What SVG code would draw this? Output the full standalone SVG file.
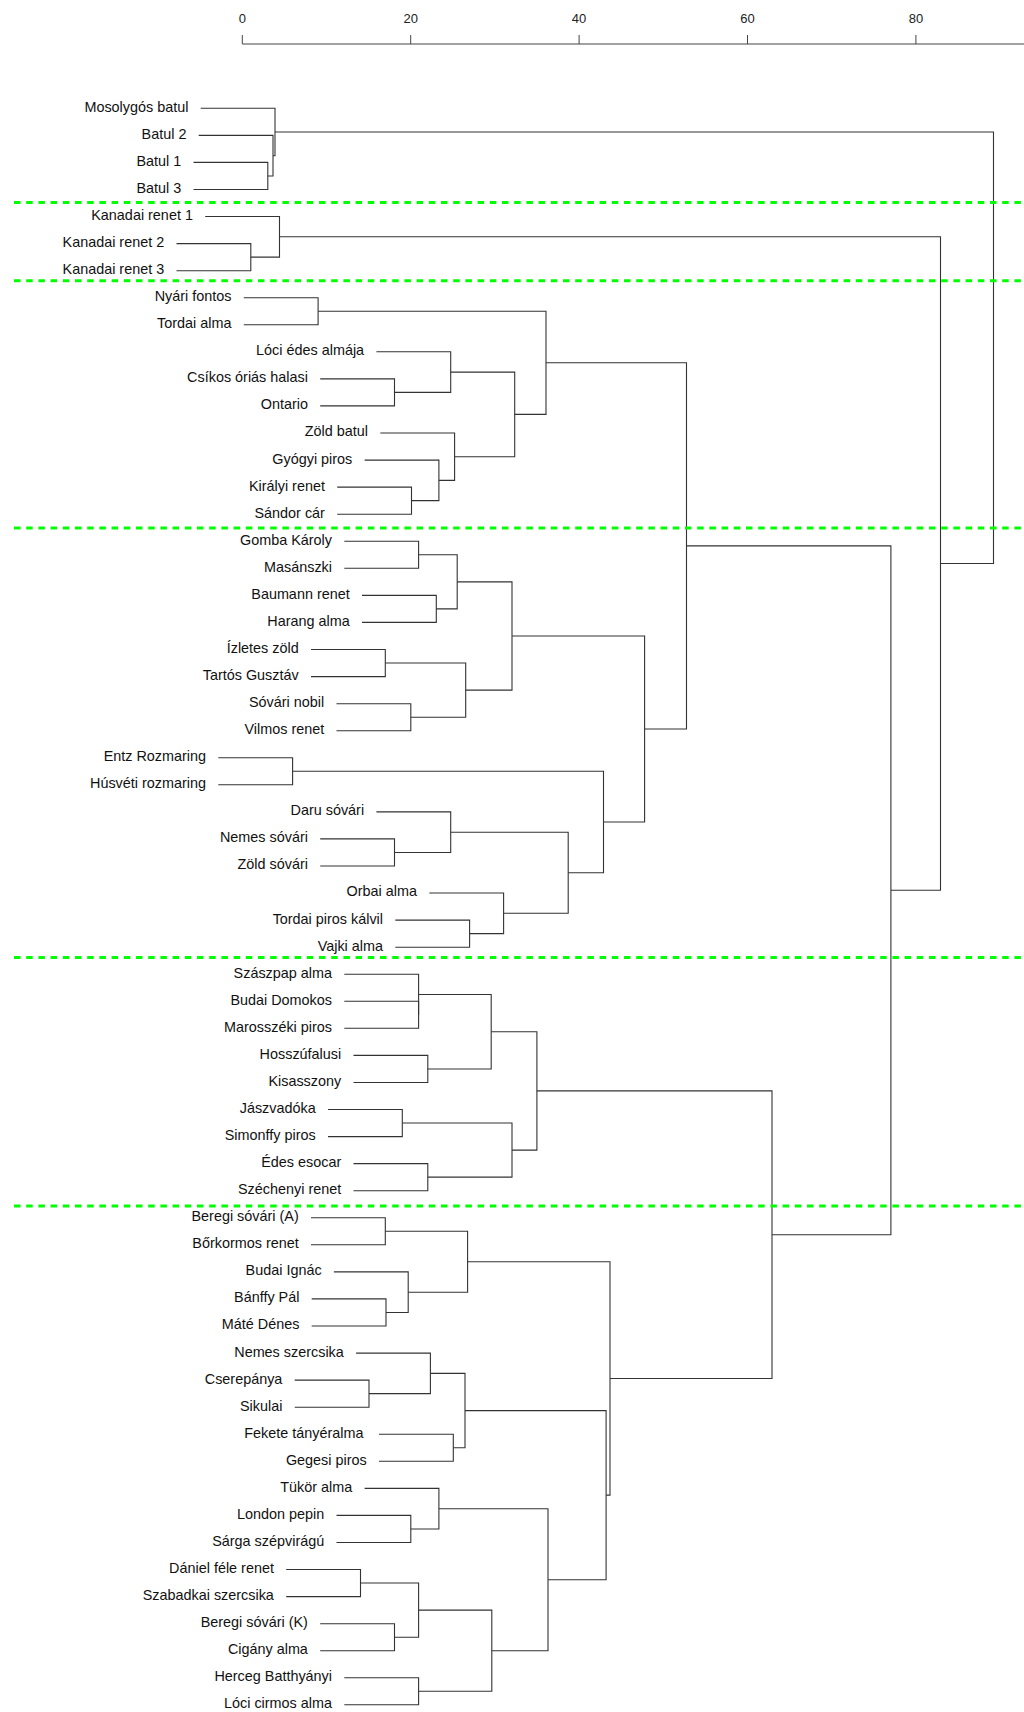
<svg xmlns="http://www.w3.org/2000/svg" width="1024" height="1712" viewBox="0 0 1024 1712">
<style>
.bg{fill:#ffffff}
.lbl{font-family:"Liberation Sans",Arial,sans-serif;font-size:14.4px;fill:#111;text-anchor:end}
.tick{font-family:"Liberation Sans",Arial,sans-serif;font-size:13px;fill:#222;text-anchor:middle}
.axis{stroke:#444;stroke-width:1;fill:none}
.link{stroke:#333;stroke-width:1.1;fill:none}
.sep{stroke:#00ff00;stroke-width:3;stroke-dasharray:6.5 5.7;fill:none}
</style>
<rect class="bg" x="0" y="0" width="1024" height="1712"/>
<g id="axis">
<path class="axis" d="M242.3 44 H1024 M242.3 35 V44 M410.7 35 V44 M579.1 35 V44 M747.5 35 V44 M915.9 35 V44"/>
<text class="tick" x="242.3" y="22.7">0</text>
<text class="tick" x="410.7" y="22.7">20</text>
<text class="tick" x="579.1" y="22.7">40</text>
<text class="tick" x="747.5" y="22.7">60</text>
<text class="tick" x="915.9" y="22.7">80</text>
</g>
<g id="connectors">
<path class="link" d="M193.5 162.4 H267.8 V189.5 H193.5"/>
<path class="link" d="M198.7 135.4 H273 V175.95 H267.8"/>
<path class="link" d="M200.7 108.3 H275 V155.7 H273"/>
<path class="link" d="M176.5 243.6 H250.8 V270.7 H176.5"/>
<path class="link" d="M205.2 216.5 H279.5 V257.15 H250.8"/>
<path class="link" d="M243.8 297.7 H318.1 V324.8 H243.8"/>
<path class="link" d="M320.2 378.9 H394.5 V405.9 H320.2"/>
<path class="link" d="M376.4 351.8 H450.7 V392.4 H394.5"/>
<path class="link" d="M337.2 487.1 H411.5 V514.2 H337.2"/>
<path class="link" d="M364.6 460.1 H438.9 V500.65 H411.5"/>
<path class="link" d="M380.3 433 H454.6 V480.4 H438.9"/>
<path class="link" d="M450.7 372.1 H514.7 V456.7 H454.6"/>
<path class="link" d="M318.1 311.25 H546 V414.4 H514.7"/>
<path class="link" d="M344.3 541.3 H418.6 V568.3 H344.3"/>
<path class="link" d="M362 595.4 H436.3 V622.4 H362"/>
<path class="link" d="M418.6 554.8 H457.2 V608.9 H436.3"/>
<path class="link" d="M311 649.5 H385.3 V676.6 H311"/>
<path class="link" d="M336.5 703.7 H410.8 V730.7 H336.5"/>
<path class="link" d="M385.3 663.05 H465.7 V717.2 H410.8"/>
<path class="link" d="M457.2 581.85 H512 V690.1 H465.7"/>
<path class="link" d="M218.3 757.8 H292.6 V784.8 H218.3"/>
<path class="link" d="M320.2 838.9 H394.5 V866 H320.2"/>
<path class="link" d="M376.4 811.9 H450.7 V852.45 H394.5"/>
<path class="link" d="M395.3 920.1 H469.6 V947.2 H395.3"/>
<path class="link" d="M429.3 893 H503.6 V933.65 H469.6"/>
<path class="link" d="M450.7 832.2 H568.2 V913.3 H503.6"/>
<path class="link" d="M292.6 771.3 H603.5 V872.75 H568.2"/>
<path class="link" d="M512 635.98 H644.6 V822 H603.5"/>
<path class="link" d="M546 362.8 H686.5 V729 H644.6"/>
<path class="link" d="M344.3 1001.3 H418.6 V1028.3 H344.3"/>
<path class="link" d="M344.3 974.2 H418.6 V1014.8"/>
<path class="link" d="M353.5 1055.4 H427.8 V1082.5 H353.5"/>
<path class="link" d="M418.6 994.5 H491.2 V1068.95 H427.8"/>
<path class="link" d="M328 1109.5 H402.3 V1136.6 H328"/>
<path class="link" d="M353.5 1163.6 H427.8 V1190.7 H353.5"/>
<path class="link" d="M402.3 1123.05 H512 V1177.15 H427.8"/>
<path class="link" d="M491.2 1031.7 H536.9 V1150.1 H512"/>
<path class="link" d="M311 1217.8 H385.3 V1244.8 H311"/>
<path class="link" d="M311.7 1298.9 H386 V1326 H311.7"/>
<path class="link" d="M333.9 1271.9 H408.2 V1312.45 H386"/>
<path class="link" d="M385.3 1231.3 H467.6 V1292.2 H408.2"/>
<path class="link" d="M294.7 1380.1 H369 V1407.2 H294.7"/>
<path class="link" d="M356.1 1353.1 H430.4 V1393.65 H369"/>
<path class="link" d="M379 1434.2 H453.3 V1461.3 H379"/>
<path class="link" d="M430.4 1373.4 H465 V1447.75 H453.3"/>
<path class="link" d="M336.5 1515.4 H410.8 V1542.5 H336.5"/>
<path class="link" d="M364.6 1488.4 H438.9 V1528.95 H410.8"/>
<path class="link" d="M286.2 1569.5 H360.5 V1596.6 H286.2"/>
<path class="link" d="M320.2 1623.7 H394.5 V1650.7 H320.2"/>
<path class="link" d="M360.5 1583.05 H418.6 V1637.2 H394.5"/>
<path class="link" d="M344.3 1677.8 H418.6 V1704.8 H344.3"/>
<path class="link" d="M418.6 1610.1 H491.8 V1691.3 H418.6"/>
<path class="link" d="M438.9 1508.7 H548 V1650.7 H491.8"/>
<path class="link" d="M465 1410.6 H606.1 V1579.7 H548"/>
<path class="link" d="M467.6 1261.75 H610 V1495.15 H606.1"/>
<path class="link" d="M536.9 1090.9 H772 V1378.45 H610"/>
<path class="link" d="M686.5 545.9 H890.9 V1234.7 H772"/>
<path class="link" d="M279.5 236.8 H940.5 V890.3 H890.9"/>
<path class="link" d="M275 132 H993.5 V563.55 H940.5"/>
</g>
<g id="leaves">
<g id="n0"><text class="lbl" x="188.4" y="111.7">Mosolygós batul</text></g>
<g id="n1"><text class="lbl" x="186.4" y="138.8">Batul 2</text></g>
<g id="n2"><text class="lbl" x="181.2" y="165.8">Batul 1</text></g>
<g id="n3"><text class="lbl" x="181.2" y="192.9">Batul 3</text></g>
<g id="n4"><text class="lbl" x="192.9" y="219.9">Kanadai renet 1</text></g>
<g id="n5"><text class="lbl" x="164.2" y="247">Kanadai renet 2</text></g>
<g id="n6"><text class="lbl" x="164.2" y="274.1">Kanadai renet 3</text></g>
<g id="n7"><text class="lbl" x="231.5" y="301.1">Nyári fontos</text></g>
<g id="n8"><text class="lbl" x="231.5" y="328.2">Tordai alma</text></g>
<g id="n9"><text class="lbl" x="364.1" y="355.2">Lóci édes almája</text></g>
<g id="n10"><text class="lbl" x="307.9" y="382.3">Csíkos óriás halasi</text></g>
<g id="n11"><text class="lbl" x="307.9" y="409.3">Ontario</text></g>
<g id="n12"><text class="lbl" x="368" y="436.4">Zöld batul</text></g>
<g id="n13"><text class="lbl" x="352.3" y="463.5">Gyógyi piros</text></g>
<g id="n14"><text class="lbl" x="324.9" y="490.5">Királyi renet</text></g>
<g id="n15"><text class="lbl" x="324.9" y="517.6">Sándor cár</text></g>
<g id="n16"><text class="lbl" x="332" y="544.7">Gomba Károly</text></g>
<g id="n17"><text class="lbl" x="332" y="571.7">Masánszki</text></g>
<g id="n18"><text class="lbl" x="349.7" y="598.8">Baumann renet</text></g>
<g id="n19"><text class="lbl" x="349.7" y="625.8">Harang alma</text></g>
<g id="n20"><text class="lbl" x="298.7" y="652.9">Ízletes zöld</text></g>
<g id="n21"><text class="lbl" x="298.7" y="680">Tartós Gusztáv</text></g>
<g id="n22"><text class="lbl" x="324.2" y="707.1">Sóvári nobil</text></g>
<g id="n23"><text class="lbl" x="324.2" y="734.1">Vilmos renet</text></g>
<g id="n24"><text class="lbl" x="206" y="761.2">Entz Rozmaring</text></g>
<g id="n25"><text class="lbl" x="206" y="788.2">Húsvéti rozmaring</text></g>
<g id="n26"><text class="lbl" x="364.1" y="815.3">Daru sóvári</text></g>
<g id="n27"><text class="lbl" x="307.9" y="842.3">Nemes sóvári</text></g>
<g id="n28"><text class="lbl" x="307.9" y="869.4">Zöld sóvári</text></g>
<g id="n29"><text class="lbl" x="417" y="896.4">Orbai alma</text></g>
<g id="n30"><text class="lbl" x="383" y="923.5">Tordai piros kálvil</text></g>
<g id="n31"><text class="lbl" x="383" y="950.6">Vajki alma</text></g>
<g id="n32"><text class="lbl" x="332" y="977.6">Szászpap alma</text></g>
<g id="n33"><text class="lbl" x="332" y="1004.7">Budai Domokos</text></g>
<g id="n34"><text class="lbl" x="332" y="1031.7">Marosszéki piros</text></g>
<g id="n35"><text class="lbl" x="341.2" y="1058.8">Hosszúfalusi</text></g>
<g id="n36"><text class="lbl" x="341.2" y="1085.9">Kisasszony</text></g>
<g id="n37"><text class="lbl" x="315.7" y="1112.9">Jászvadóka</text></g>
<g id="n38"><text class="lbl" x="315.7" y="1140">Simonffy piros</text></g>
<g id="n39"><text class="lbl" x="341.2" y="1167">Édes esocar</text></g>
<g id="n40"><text class="lbl" x="341.2" y="1194.1">Széchenyi renet</text></g>
<g id="n41"><text class="lbl" x="298.7" y="1221.2">Beregi sóvári (A)</text></g>
<g id="n42"><text class="lbl" x="298.7" y="1248.2">Bőrkormos renet</text></g>
<g id="n43"><text class="lbl" x="321.6" y="1275.3">Budai Ignác</text></g>
<g id="n44"><text class="lbl" x="299.4" y="1302.3">Bánffy Pál</text></g>
<g id="n45"><text class="lbl" x="299.4" y="1329.4">Máté Dénes</text></g>
<g id="n46"><text class="lbl" x="343.8" y="1356.5">Nemes szercsika</text></g>
<g id="n47"><text class="lbl" x="282.4" y="1383.5">Cserepánya</text></g>
<g id="n48"><text class="lbl" x="282.4" y="1410.6">Sikulai</text></g>
<g id="n49"><text class="lbl" x="363.5" y="1437.6">Fekete tányéralma</text></g>
<g id="n50"><text class="lbl" x="366.7" y="1464.7">Gegesi piros</text></g>
<g id="n51"><text class="lbl" x="352.3" y="1491.8">Tükör alma</text></g>
<g id="n52"><text class="lbl" x="324.2" y="1518.8">London pepin</text></g>
<g id="n53"><text class="lbl" x="324.2" y="1545.9">Sárga szépvirágú</text></g>
<g id="n54"><text class="lbl" x="273.9" y="1572.9">Dániel féle renet</text></g>
<g id="n55"><text class="lbl" x="273.9" y="1600">Szabadkai szercsika</text></g>
<g id="n56"><text class="lbl" x="307.9" y="1627.1">Beregi sóvári (K)</text></g>
<g id="n57"><text class="lbl" x="307.9" y="1654.1">Cigány alma</text></g>
<g id="n58"><text class="lbl" x="332" y="1681.2">Herceg Batthyányi</text></g>
<g id="n59"><text class="lbl" x="332" y="1708.2">Lóci cirmos alma</text></g>
</g>
<g id="separators">
<path class="sep" d="M14 202.5 H1024"/>
<path class="sep" d="M14 280.8 H1024"/>
<path class="sep" d="M14 528 H1024"/>
<path class="sep" d="M14 957.6 H1024"/>
<path class="sep" d="M14 1206 H1024"/>
</g>
</svg>
